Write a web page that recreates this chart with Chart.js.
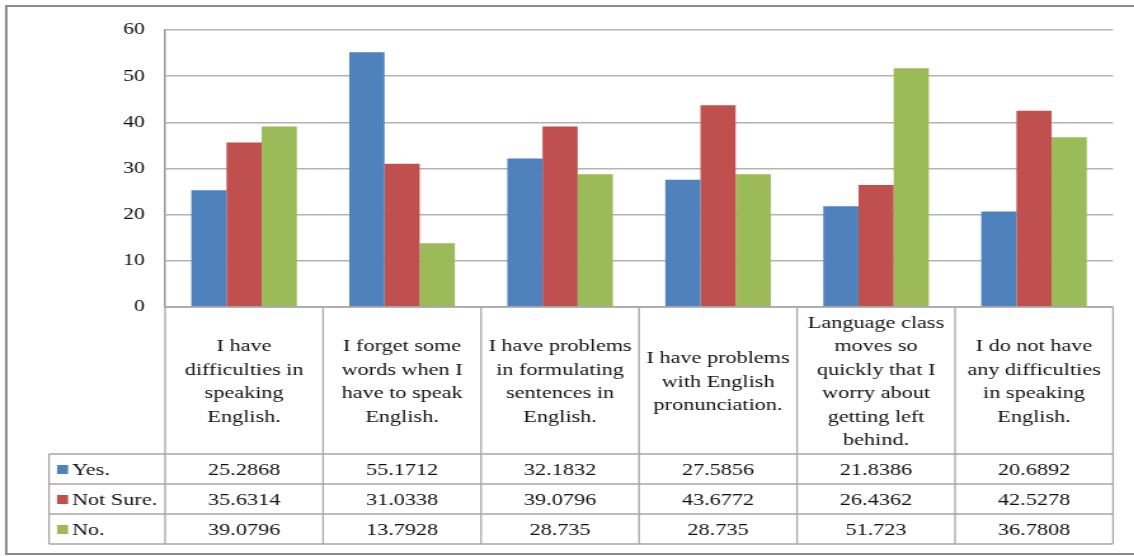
<!DOCTYPE html>
<html>
<head>
<meta charset="utf-8">
<script src="https://cdn.jsdelivr.net/npm/chart.js@4/dist/chart.umd.min.js"></script>
<style>
  html, body { margin: 0; padding: 0; background: #fff; overflow: hidden; }
  #wrap { position: absolute; left: 0; top: 0; width: 893px; height: 556px; transform: scaleX(1.27); transform-origin: 0 0; }
  canvas { display: block; }
  .probe { font-family: "Liberation Serif"; position: absolute; left: -9999px; }
</style>
</head>
<body>
<span class="probe">Font probe 0123</span>
<div id="wrap"><canvas id="c" width="893" height="556"></canvas></div>
<script>
// ---- data ----
const categories = [
  ["I have", "difficulties in", "speaking", "English."],
  ["I forget some", "words when I", "have to speak", "English."],
  ["I have problems", "in formulating", "sentences in", "English."],
  ["I have problems", "with English", "pronunciation."],
  ["Language class", "moves so", "quickly that I", "worry about", "getting left", "behind."],
  ["I do not have", "any difficulties", "in speaking", "English."]
];
const seriesNames = ["Yes.", "Not Sure.", "No."];
const yesValues = [25.2868, 55.1712, 32.1832, 27.5856, 21.8386, 20.6892];
const notSureValues = [35.6314, 31.0338, 39.0796, 43.6772, 26.4362, 42.5278];
const noValues = [39.0796, 13.7928, 28.735, 28.735, 51.723, 36.7808];
const yTicks = [0, 10, 20, 30, 40, 50, 60];

const colors = ["#4F81BD", "#C0504D", "#9BBB59"];
const FONT = '"Liberation Serif", serif';

const tablePlugin = {
  id: 'dataTable',
  afterDraw(chart) {
    const ctx = chart.ctx;
    const xs = chart.scales.x;
    const ys = chart.scales.y;
    const area = chart.chartArea;
    const top = ys.getPixelForValue(0);
    const headerBottom = top + 147;
    const rowH = 30;
    const tableBottom = headerBottom + rowH * 3;
    const legendLeft = 38.6;
    const n = categories.length;
    const catW = (area.right - area.left) / n;

    ctx.save();
    ctx.strokeStyle = '#8a8a8a';
    ctx.lineWidth = 2;
    ctx.strokeRect(4.9, 6, chart.width + 20, 548);

    ctx.strokeStyle = '#a6a6a6';
    ctx.lineWidth = 1.3;
    ctx.beginPath();
    ctx.moveTo(area.left, top); ctx.lineTo(area.right, top);
    for (let r = 0; r <= 3; r++) {
      const y = headerBottom + r * rowH;
      ctx.moveTo(legendLeft, y); ctx.lineTo(area.right, y);
    }
    for (let i = 0; i <= n; i++) {
      const x = area.left + i * catW;
      ctx.moveTo(x, top); ctx.lineTo(x, tableBottom);
    }
    ctx.moveTo(legendLeft, headerBottom); ctx.lineTo(legendLeft, tableBottom);
    ctx.stroke();

    ctx.fillStyle = '#111';
    ctx.font = '17.5px ' + FONT;
    ctx.textAlign = 'center';
    ctx.textBaseline = 'middle';
    const lh = 23.5;
    const cy = (top + headerBottom) / 2 + 1.5;
    categories.forEach((lines, i) => {
      const x = xs.getPixelForValue(i);
      const y0 = cy - (lines.length - 1) * lh / 2;
      lines.forEach((t, k) => ctx.fillText(t, x, y0 + k * lh));
    });

    chart.data.datasets.forEach((ds, r) => {
      const y = headerBottom + r * rowH + rowH / 2 + 1;
      ctx.fillStyle = ds.backgroundColor;
      ctx.fillRect(44.9, y - 5, 8.7, 9);
      ctx.fillStyle = '#111';
      ctx.textAlign = 'left';
      ctx.fillText(ds.label, 56.7, y);
      ctx.textAlign = 'center';
      ds.data.forEach((v, i) => {
        ctx.fillText(String(v), xs.getPixelForValue(i), y);
      });
    });
    ctx.restore();
  }
};

function build() {
  new Chart(document.getElementById('c'), {
    type: 'bar',
    data: {
      labels: categories,
      datasets: [
        { label: seriesNames[0], data: yesValues, backgroundColor: colors[0] },
        { label: seriesNames[1], data: notSureValues, backgroundColor: colors[1] },
        { label: seriesNames[2], data: noValues, backgroundColor: colors[2] }
      ]
    },
    options: {
      responsive: false,
      animation: false,
      devicePixelRatio: 1,
      layout: { padding: { left: 0, top: 30, right: 16.6, bottom: 249 } },
      plugins: { legend: { display: false }, tooltip: { enabled: false } },
      datasets: { bar: { categoryPercentage: 0.668, barPercentage: 1.0 } },
      scales: {
        x: { display: false },
        y: {
          min: 0, max: 60,
          afterFit(scale) { scale.width = 130; },
          afterBuildTicks(scale) { scale.ticks = yTicks.map(v => ({ value: v })); },
          ticks: { stepSize: 10, padding: 16, color: '#111', font: { family: FONT, size: 17 } },
          grid: { color: '#b3b3b3', lineWidth: 1.5, drawTicks: false },
          border: { color: '#9a9a9a', width: 1.5 }
        }
      }
    },
    plugins: [tablePlugin]
  });
}
if (document.fonts && document.fonts.load) {
  document.fonts.load('17px "Liberation Serif"').then(build, build);
} else { build(); }
</script>
</body>
</html>
